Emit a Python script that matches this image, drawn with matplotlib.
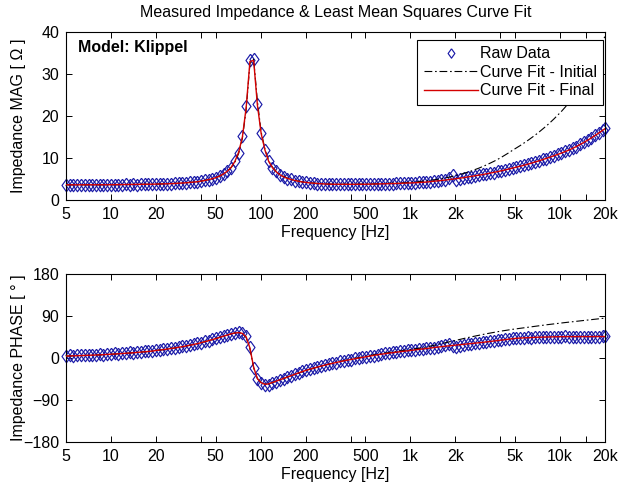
import matplotlib
matplotlib.use("Agg")
import matplotlib.pyplot as plt
from matplotlib.ticker import NullLocator

plt.rcParams['font.family'] = ['Liberation Sans', 'DejaVu Sans']
plt.rcParams['font.size'] = 11.5

# frequency points of the measurement (1/12 octave)
freq = [5, 5.3, 5.6, 5.9, 6.3, 6.7, 7.1, 7.5, 7.9, 8.4, 8.9, 9.4,
        10, 10.6, 11.2, 11.9, 12.6, 13.3, 14.1, 15.0, 15.9, 16.8, 17.8, 18.9,
        20, 21.2, 22.4, 23.8, 25.2, 26.7, 28.3, 30.0, 31.7, 33.6, 35.6, 37.8,
        40, 42.4, 44.9, 47.6, 50.4, 53.4, 56.6, 59.9, 63.5, 67.3, 71.3, 75.5,
        80, 84.8, 89.8, 95.1, 100.8, 106.8, 113.1, 119.9, 127.0, 134.5, 142.5, 151.0,
        160, 169.5, 179.6, 190.3, 201.6, 213.6, 226.3, 239.7, 254.0, 269.1, 285.1, 302.0,
        320, 339, 359, 381, 403, 427, 453, 479, 508, 538, 570, 604,
        640, 678, 718, 761, 806, 854, 905, 959, 1016, 1076, 1140, 1208,
        1280, 1356, 1437, 1522, 1613, 1709, 1810, 1918, 2032, 2153, 2281, 2416,
        2560, 2712, 2874, 3044, 3225, 3417, 3620, 3836, 4064, 4305, 4561, 4832,
        5120, 5424, 5747, 6089, 6451, 6834, 7241, 7671, 8127, 8611, 9123, 9665,
        10240, 10849, 11494, 12177, 12902, 13669, 14482, 15342, 16255, 17222, 18245, 19330, 20000]

# measured impedance magnitude [ohm]
raw_mag = [3.64, 3.58, 3.66, 3.60, 3.59, 3.65, 3.61, 3.57, 3.66, 3.62, 3.60, 3.65,
           3.62, 3.67, 3.63, 3.64, 3.70, 3.66, 3.72, 3.68, 3.69, 3.76, 3.72, 3.79,
           3.75, 3.83, 3.81, 3.89, 3.86, 3.96, 3.95, 4.08, 4.07, 4.21, 4.23, 4.39,
           4.47, 4.69, 4.80, 5.11, 5.32, 5.79, 6.18, 6.93, 7.72, 9.20, 11.2, 15.2,
           22.3, 33.4, 33.6, 22.8, 16.0, 12.0, 9.3, 7.6, 6.8, 5.95, 5.55, 5.1,
           4.92, 4.60, 4.48, 4.26, 4.20, 4.04, 4.02, 3.89, 3.88, 3.79, 3.79, 3.72,
           3.76, 3.71, 3.75, 3.70, 3.75, 3.71, 3.76, 3.72, 3.77, 3.75, 3.81, 3.79,
           3.85, 3.83, 3.89, 3.88, 3.95, 3.94, 4.02, 4.00, 4.09, 4.08, 4.18, 4.17,
           4.30, 4.33, 4.47, 4.51, 4.68, 4.80, 5.25, 5.85, 4.85, 5.05, 5.30, 5.49,
           5.57, 5.78, 5.86, 6.09, 6.19, 6.43, 6.54, 6.80, 6.92, 7.19, 7.34, 7.63,
           7.76, 8.06, 8.23, 8.55, 8.74, 9.08, 9.29, 9.65, 9.87, 10.26, 10.50, 10.90,
           11.14, 11.57, 11.86, 12.35, 12.71, 13.27, 13.69, 14.30, 14.76, 15.43, 15.95, 16.66, 17.1]

# measured impedance phase [deg]
raw_phase = [4.8, 5.6, 4.9, 6.1, 5.5, 6.6, 6.0, 7.2, 6.6, 7.8, 7.3, 8.5,
             8.4, 9.6, 9.3, 10.7, 10.4, 11.8, 11.5, 13.0, 12.8, 14.4, 14.3, 15.9,
             16.5, 18.0, 18.3, 20.1, 20.6, 22.4, 23.1, 25.0, 25.9, 27.9, 29.2, 31.3,
             33.1, 35.4, 37.3, 39.9, 42.0, 44.8, 47.0, 49.8, 51.9, 53.9, 54.6, 53.4,
             46.5, 22.5, -21.5, -45.5, -54.5, -58.0, -57.0, -53.5, -50.5, -47.0, -44.0, -41.0,
             -37.8, -34.0, -32.1, -28.4, -26.8, -23.4, -22.0, -19.0, -17.7, -14.8, -13.6, -11.0,
             -9.8, -7.3, -6.5, -4.1, -3.4, -1.1, -0.4, 1.8, 2.5, 4.7, 5.2, 7.3,
             7.8, 9.6, 9.9, 11.9, 12.1, 13.9, 14.2, 16.1, 16.3, 18.1, 18.3, 20.1,
             20.3, 22.2, 22.4, 24.2, 26.0, 28.5, 31.0, 26.5, 23.2, 26.3, 28.8, 30.3,
             30.5, 32.0, 32.2, 33.8, 34.1, 35.8, 36.1, 37.8, 38.1, 39.8, 40.1, 41.8,
             41.9, 43.1, 42.8, 43.9, 43.6, 44.6, 44.2, 45.2, 44.7, 45.6, 45.1, 46.0,
             45.4, 46.1, 45.4, 46.0, 45.2, 45.9, 45.2, 45.9, 45.2, 46.0, 45.4, 46.3, 46.1]

# initial guess of the model
init_mag = [3.61, 3.61, 3.61, 3.62, 3.62, 3.62, 3.62, 3.62, 3.63, 3.63, 3.63, 3.63,
            3.64, 3.64, 3.65, 3.66, 3.67, 3.68, 3.69, 3.70, 3.71, 3.73, 3.74, 3.76,
            3.78, 3.80, 3.83, 3.86, 3.89, 3.93, 3.98, 4.04, 4.10, 4.17, 4.26, 4.35,
            4.50, 4.65, 4.84, 5.06, 5.35, 5.71, 6.19, 6.82, 7.70, 8.98, 11.1, 14.7,
            21.5, 32.5, 33.5, 23.5, 16.2, 12.1, 9.3, 7.8, 6.8, 6.1, 5.6, 5.2,
            4.90, 4.66, 4.47, 4.31, 4.19, 4.09, 4.01, 3.94, 3.88, 3.83, 3.79, 3.76,
            3.75, 3.75, 3.75, 3.75, 3.76, 3.76, 3.77, 3.78, 3.79, 3.81, 3.83, 3.86,
            3.89, 3.92, 3.95, 3.99, 4.03, 4.07, 4.12, 4.17, 4.23, 4.30, 4.37, 4.45,
            4.55, 4.66, 4.78, 4.92, 5.07, 5.24, 5.42, 5.62, 5.84, 6.08, 6.34, 6.62,
            6.92, 7.24, 7.58, 7.95, 8.34, 8.76, 9.20, 9.67, 10.17, 10.70, 11.26, 11.85,
            12.4, 12.95, 13.55, 14.15, 14.8, 15.45, 16.15, 16.9, 17.65, 18.45, 19.3, 20.2,
            21.1, 22.1, 23.2, 24.4, 25.7, 27.1, 28.6, 30.2, 31.9, 33.7, 35.6, 37.7, 39.0]

init_phase = [4.1, 4.3, 4.6, 4.8, 5.1, 5.4, 5.7, 6.0, 6.3, 6.7, 7.1, 7.5,
              8.0, 8.5, 9.0, 9.5, 10.0, 10.6, 11.2, 11.9, 12.5, 13.3, 14.0, 14.8,
              16.1, 17.0, 17.9, 19.1, 20.3, 21.5, 22.8, 24.2, 25.6, 27.2, 28.9, 30.7,
              32.8, 34.8, 37.1, 39.3, 41.8, 44.3, 46.8, 49.3, 51.7, 53.5, 54.3, 52.7,
              44.0, 19.5, -21.0, -44.0, -52.5, -56.0, -55.5, -52.8, -50.0, -47.0, -44.0, -41.0,
              -38.0, -35.0, -32.2, -29.5, -26.9, -24.4, -22.0, -19.7, -17.5, -15.3, -13.2, -11.2,
              -9.2, -7.4, -5.7, -4.0, -2.4, -0.8, 0.8, 2.4, 3.9, 5.4, 6.9, 8.3,
              9.3, 10.5, 11.7, 12.9, 14.0, 15.1, 16.2, 17.3, 18.4, 19.5, 20.7, 21.9,
              23.5, 25.3, 27.1, 28.9, 30.7, 32.5, 34.3, 36.1, 38.0, 39.9, 41.8, 43.6,
              45.3, 47.0, 48.7, 50.3, 51.9, 53.4, 54.9, 56.3, 57.7, 59.0, 60.2, 61.4,
              62.5, 63.7, 64.8, 65.9, 67.0, 68.1, 69.1, 70.1, 71.1, 72.1, 73.1, 74.0,
              75.0, 75.9, 76.8, 77.7, 78.6, 79.5, 80.4, 81.3, 82.2, 83.1, 84.0, 84.9, 85.4]

# final least squares fit
final_mag = [3.61, 3.61, 3.61, 3.62, 3.62, 3.62, 3.62, 3.62, 3.63, 3.63, 3.63, 3.63,
             3.64, 3.64, 3.65, 3.66, 3.67, 3.68, 3.69, 3.70, 3.71, 3.73, 3.74, 3.76,
             3.78, 3.80, 3.83, 3.86, 3.89, 3.93, 3.98, 4.04, 4.10, 4.17, 4.26, 4.35,
             4.50, 4.65, 4.84, 5.06, 5.36, 5.73, 6.22, 6.86, 7.77, 9.2, 11.4, 15.0,
             22.0, 33.0, 33.2, 22.6, 15.8, 11.9, 9.2, 7.7, 6.7, 6.0, 5.5, 5.13,
             4.88, 4.64, 4.45, 4.29, 4.17, 4.07, 3.99, 3.92, 3.86, 3.81, 3.77, 3.75,
             3.74, 3.73, 3.73, 3.73, 3.73, 3.73, 3.74, 3.74, 3.75, 3.77, 3.79, 3.81,
             3.83, 3.85, 3.87, 3.90, 3.93, 3.96, 3.99, 4.02, 4.06, 4.10, 4.15, 4.20,
             4.27, 4.36, 4.44, 4.54, 4.63, 4.74, 4.85, 4.96, 5.08, 5.19, 5.33, 5.46,
             5.60, 5.74, 5.89, 6.05, 6.22, 6.39, 6.57, 6.76, 6.95, 7.15, 7.37, 7.59,
             7.79, 8.02, 8.26, 8.51, 8.77, 9.04, 9.32, 9.61, 9.90, 10.21, 10.53, 10.85,
             11.17, 11.52, 11.89, 12.30, 12.74, 13.22, 13.72, 14.24, 14.79, 15.37, 15.98, 16.59, 16.96]

final_phase = [4.1, 4.3, 4.6, 4.8, 5.1, 5.4, 5.7, 6.0, 6.3, 6.7, 7.1, 7.5,
               8.0, 8.5, 9.0, 9.5, 10.0, 10.6, 11.2, 11.9, 12.5, 13.3, 14.0, 14.8,
               16.1, 17.0, 17.9, 19.1, 20.3, 21.5, 22.8, 24.2, 25.6, 27.2, 28.9, 30.7,
               32.8, 34.8, 37.1, 39.3, 41.8, 44.3, 46.8, 49.3, 51.7, 53.5, 54.3, 52.7,
               45.1, 21.2, -20.0, -44.5, -53.0, -56.5, -55.5, -52.5, -49.5, -46.5, -43.5, -40.5,
               -37.5, -34.5, -31.7, -29.0, -26.4, -24.0, -21.7, -19.5, -17.4, -15.3, -13.3, -11.4,
               -9.5, -7.8, -6.2, -4.6, -3.1, -1.6, -0.1, 1.3, 2.8, 4.2, 5.5, 6.8,
               8.1, 9.1, 10.2, 11.4, 12.4, 13.4, 14.5, 15.6, 16.6, 17.6, 18.6, 19.6,
               20.6, 21.6, 22.6, 23.5, 24.4, 25.2, 26.0, 26.8, 27.6, 28.4, 29.2, 30.0,
               30.8, 31.6, 32.5, 33.4, 34.4, 35.4, 36.4, 37.4, 38.4, 39.4, 40.4, 41.4,
               42.2, 42.7, 43.1, 43.5, 43.9, 44.2, 44.5, 44.8, 45.0, 45.2, 45.4, 45.6,
               45.7, 45.7, 45.7, 45.6, 45.5, 45.5, 45.5, 45.5, 45.5, 45.6, 45.7, 45.9, 45.9]

xticks = [5, 10, 20, 40, 50, 100, 200, 400, 500, 1000, 2000, 4000, 5000, 10000, 15000, 20000]
xticklabels = ['5', '10', '20', '', '50', '100', '200', '', '500', '1k', '2k', '', '5k', '10k', '', '20k']

# diamond a bit taller than wide, like the MATLAB one
diamond = [(0, 1), (0.72, 0), (0, -1), (-0.72, 0), (0, 1)]

fig = plt.figure(figsize=(6.29, 4.88), dpi=100)
ax1 = fig.add_axes([0.1049, 0.5902, 0.8569, 0.3443])
ax2 = fig.add_axes([0.1049, 0.0943, 0.8569, 0.3443])

for ax, raw, init, final in [(ax1, raw_mag, init_mag, final_mag),
                             (ax2, raw_phase, init_phase, final_phase)]:
    ax.plot(freq, raw, linestyle='none', marker=diamond, markersize=9,
            markerfacecolor='none', markeredgecolor='#1a1aa8', markeredgewidth=0.85,
            label='Raw Data', zorder=2, clip_on=False)
    ax.plot(freq, init, color='black', lw=0.8, dashes=(7, 2.5, 1.5, 2.5),
            label='Curve Fit - Initial', zorder=3)
    ax.plot(freq, final, color='#d40000', lw=1.0, label='Curve Fit - Final', zorder=4)
    ax.set_xscale('log')
    ax.set_xlim(5, 20000)
    ax.set_xticks(xticks)
    ax.set_xticklabels(xticklabels)
    ax.xaxis.set_minor_locator(NullLocator())
    ax.tick_params(direction='in', top=True, right=True, length=4, width=0.7, pad=5)
    ax.set_xlabel('Frequency [Hz]', labelpad=2)
    for s in ax.spines.values():
        s.set_linewidth(0.8)

ax1.set_ylim(0, 40)
ax1.set_yticks([0, 10, 20, 30, 40])
ax1.set_ylabel('Impedance MAG [ Ω ]')
ax2.set_ylim(-180, 180)
ax2.set_yticks([-180, -90, 0, 90, 180])
ax2.set_ylabel('Impedance PHASE [ ° ]')
for ax in (ax1, ax2):
    ax.yaxis.set_label_coords(-0.075, 0.5)

ax1.text(0.022, 0.905, 'Model: Klippel', transform=ax1.transAxes,
         fontweight='bold', va='center', ha='left')

leg = ax1.legend(loc='upper right', bbox_to_anchor=(0.997, 0.952), borderaxespad=0,
                 fancybox=False, framealpha=1, edgecolor='black', handlelength=3.4,
                 handletextpad=0.12, borderpad=0.4, labelspacing=0.22, numpoints=1,
                 markerscale=0.75)
leg.get_frame().set_linewidth(0.8)

fig.text(0.533, 0.975, 'Measured Impedance & Least Mean Squares Curve Fit',
         ha='center', va='center')

fig.savefig('out.png', dpi=100)
